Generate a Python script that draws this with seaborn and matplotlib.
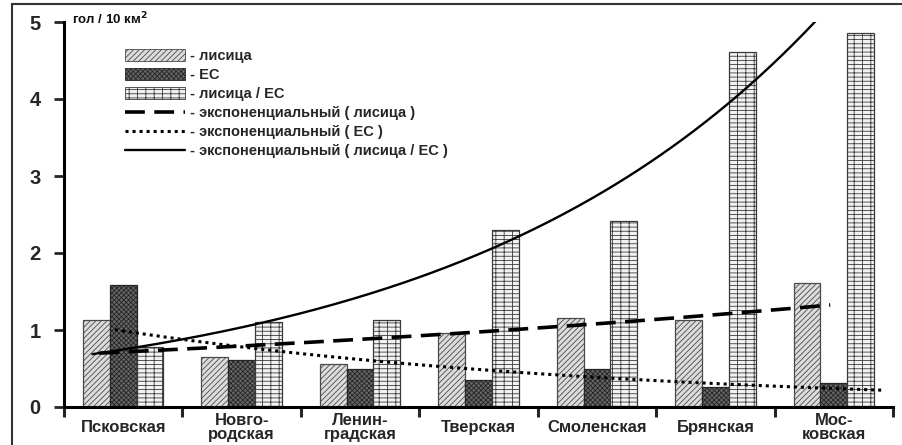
import numpy as np
import pandas as pd
import seaborn as sns
import matplotlib.pyplot as plt
from matplotlib.patches import Patch
from matplotlib.lines import Line2D

regions = ["Псковская", "Новго-\nродская", "Ленин-\nградская", "Тверская",
           "Смоленская", "Брянская", "Мос-\nковская"]
fox = [1.13, 0.65, 0.56, 0.96, 1.16, 1.13, 1.61]
ec = [1.58, 0.61, 0.49, 0.35, 0.49, 0.26, 0.31]
ratio = [0.78, 1.10, 1.13, 2.30, 2.42, 4.61, 4.86]
series = ["лисица", "ЕС", "лисица / ЕС"]

df = pd.DataFrame({
    "region": regions * 3,
    "value": fox + ec + ratio,
    "series": [s for s in series for _ in regions],
})

sns.set_style("white")
plt.rcParams["font.family"] = ["Liberation Sans", "DejaVu Sans"]
plt.rcParams["hatch.linewidth"] = 0.6

fig = plt.figure(figsize=(9.02, 4.45), dpi=100)
ax = fig.add_axes([64 / 902, 1 - 407 / 445, (893 - 64) / 902, (407 - 22) / 445])

sns.barplot(data=df, x="region", y="value", hue="series", order=regions,
            hue_order=series, width=0.68, gap=0, ax=ax, legend=False,
            edgecolor="black", linewidth=0.9)

styles = {
    "лисица": dict(facecolor="#dcdcdc", hatch="//////", hcolor="#4a4a4a"),
    "ЕС": dict(facecolor="#666666", hatch="xxxxxxx", hcolor="#262626"),
    "лисица / ЕС": dict(facecolor="#f2f2f2", hatch="++--", hcolor="#3a3a3a"),
}
n = len(regions)
for i, bar in enumerate(ax.patches[: 3 * n]):
    st = styles[series[i // n]]
    bar.set_facecolor(st["facecolor"])
    bar.set_hatch(st["hatch"])
    bar.set_edgecolor(st["hcolor"])
    bar.set_linewidth(0.9)

# exponential trend lines fitted to each series
x_idx = np.arange(n)
trend = [
    (fox, (-0.2, 5.97), dict(color="black", lw=2.6, ls=(0, (5.5, 2.6)))),
    (ec, (-0.07, 6.43), dict(color="black", lw=2.2, ls=(0, (1, 1.3)))),
    (ratio, (-0.26, 5.87), dict(color="black", lw=1.7, ls="-")),
]
for vals, (x0, x1), kw in trend:
    b, a = np.polyfit(x_idx, np.log(vals), 1)
    xs = np.linspace(x0, x1, 200)
    ax.plot(xs, np.exp(a + b * xs), **kw, zorder=5)

ax.set_xlim(-0.5, n - 0.5)
ax.set_ylim(0, 5)
ax.set_xlabel("")
ax.set_ylabel("")
for s in ["top", "right"]:
    ax.spines[s].set_visible(False)
for s in ["left", "bottom"]:
    ax.spines[s].set_linewidth(2.2)
    ax.spines[s].set_color("black")

ax.set_yticks([0, 1, 2, 3, 4, 5])
ax.tick_params(axis="y", direction="out", length=7, width=2, pad=10,
               labelsize=14.5, left=True)
for lab in ax.get_yticklabels():
    lab.set_fontweight("bold")

ax.set_xticks(np.arange(-0.5, n, 1.0))
ax.set_xticklabels([])
ax.tick_params(axis="x", which="major", direction="out", length=7, width=2.2,
               bottom=True)
ax.set_xticks(x_idx, minor=True)
ax.set_xticklabels(regions, minor=True, fontweight="bold", fontsize=12,
                   linespacing=0.9)
ax.tick_params(axis="x", which="minor", length=0, pad=14.5)
for lab in ax.get_xticklabels(minor=True):
    lab.set_verticalalignment("center")

ax.text(-0.432, 5.04, "гол / 10 км$^\\mathbf{2}$", fontsize=9.5,
        fontweight="bold", va="center", ha="left", color="#111111")

handles = [
    Patch(facecolor=styles[s]["facecolor"], hatch=styles[s]["hatch"],
          edgecolor=styles[s]["hcolor"], linewidth=0.6) for s in series
] + [Line2D([], [], **t[2]) for t in trend]
labels = ["- лисица", "- ЕС", "- лисица / ЕС",
          "- экспоненциальный ( лисица )", "- экспоненциальный ( ЕС )",
          "- экспоненциальный ( лисица / ЕС )"]
ax.legend(handles, labels, loc="upper left", bbox_to_anchor=(0.0736, 0.93),
          frameon=False, prop=dict(size=10.5, weight="bold"),
          handlelength=4.1, handleheight=0.9, handletextpad=0.35,
          labelspacing=0.34, borderpad=0, borderaxespad=0)

# frame around the figure
fig.add_artist(Line2D([12 / 902, 12 / 902], [0, 1 - 4 / 445], color="#333333",
                      lw=1.5, transform=fig.transFigure))
fig.add_artist(Line2D([12 / 902, 1], [1 - 4 / 445, 1 - 4 / 445], color="#333333",
                      lw=1.5, transform=fig.transFigure))

fig.savefig("out.png", dpi=100)
